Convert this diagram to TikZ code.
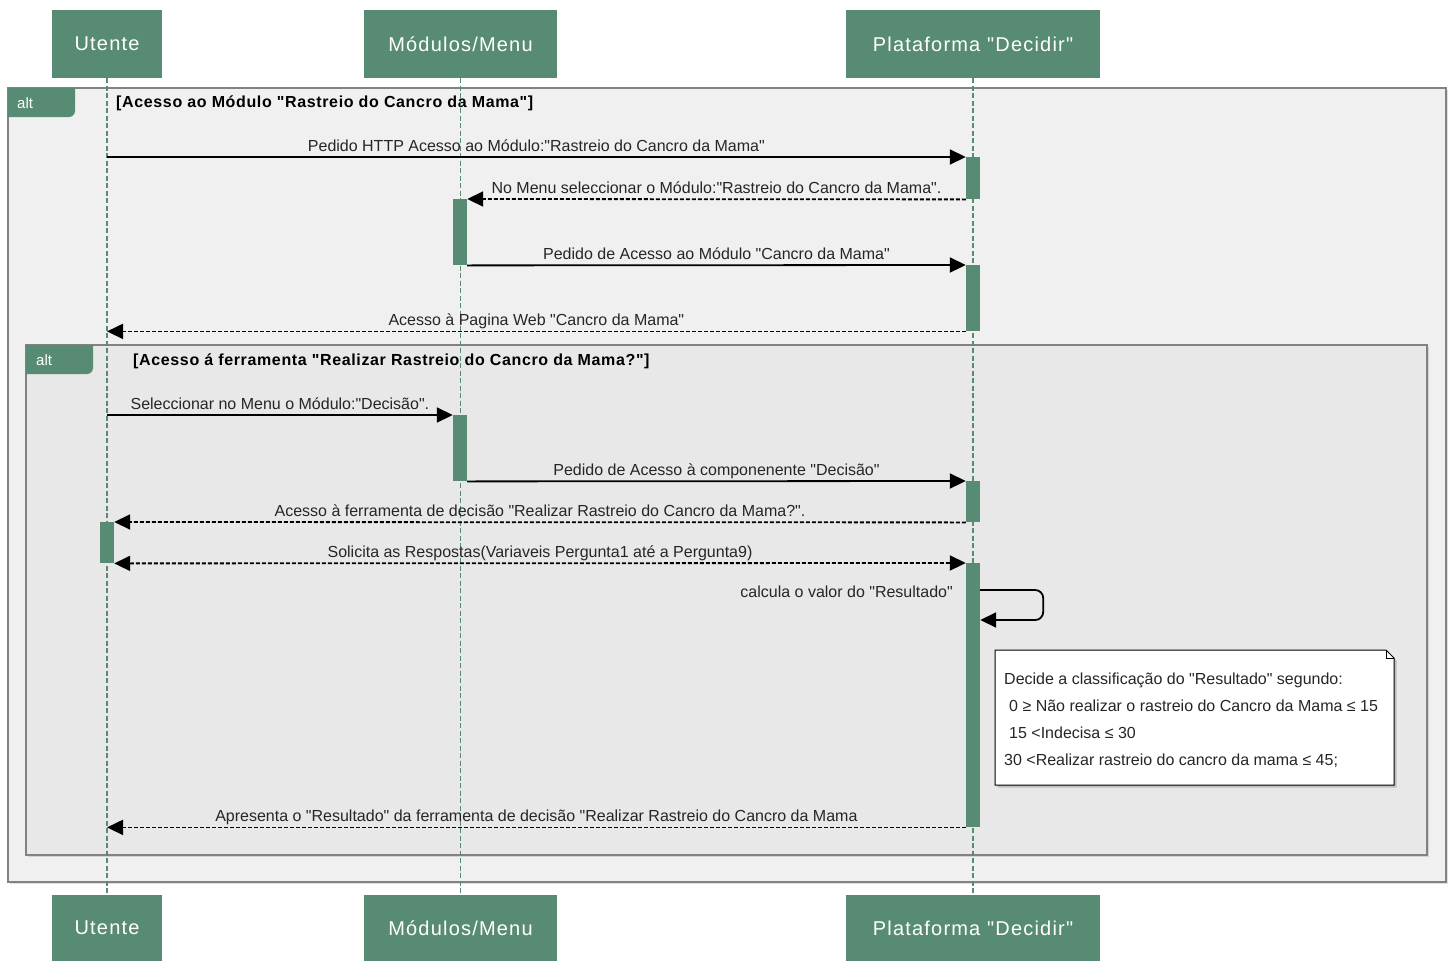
\documentclass[tikz,border=0pt]{standalone}
\usepackage{fontspec}
\setmainfont{Liberation Sans}[Ligatures=TeXOff]
\newfontfamily\actorfont[LetterSpace=6]{Liberation Sans}
\newfontfamily\guardfont[LetterSpace=4]{Liberation Sans}
\usetikzlibrary{arrows.meta, shadows}

\definecolor{umlgreen}{RGB}{88,139,116}
\definecolor{outergray}{RGB}{240,240,240}
\definecolor{innergray}{RGB}{232,232,232}
\definecolor{framegray}{RGB}{130,130,130}

\tikzset{
    actor/.style={fill=umlgreen, text=white, inner sep=0pt,
        font=\actorfont\fontsize{20}{24}\selectfont},
    lifeline/.style={umlgreen, line width=1.6pt, dash pattern=on 5pt off 2.5pt},
    activation/.style={fill=umlgreen, minimum width=14pt, inner sep=0pt},
    frame/.style={draw=framegray, line width=1.2pt,
        drop shadow={opacity=0.25, shadow xshift=2pt, shadow yshift=-2pt}},
    tab/.style={fill=umlgreen},
    tablabel/.style={text=white, anchor=west, inner sep=0pt,
        font=\fontsize{15}{18}\selectfont},
    guard/.style={anchor=west, inner sep=0pt,
        font=\guardfont\bfseries\fontsize{16}{19}\selectfont},
    msg/.style={-{Triangle[length=16pt, width=15pt]}, line width=1.8pt},
    reply/.style={msg, dash pattern=on 4pt off 2pt},
    msgtext/.style={inner sep=0pt, text=black!85, font=\fontsize{16}{19}\selectfont},
    notetext/.style={inner sep=0pt, align=left, text=black!85,
        font=\fontsize{16}{27}\selectfont}
}

\begin{document}
\begin{tikzpicture}[x=1pt, y=-1pt]
    \useasboundingbox (0,0) rectangle (1453,961);

    % alt frames
    \draw[frame, fill=outergray] (8,88) rectangle (1446,882);
    \fill[tab] (8,88) -- (75,88) [rounded corners=6pt] -- (75,117) [sharp corners] -- (8,117) -- cycle;
    \node[tablabel] (altOuter) at (17,103) {alt};
    \node[guard] (guardOuter) at (116,103) {[Acesso ao Módulo "Rastreio do Cancro da Mama"]};

    \draw[frame, fill=innergray] (26,345) rectangle (1427,855);
    \fill[tab] (26,345) -- (93,345) [rounded corners=6pt] -- (93,374) [sharp corners] -- (26,374) -- cycle;
    \node[tablabel] (altInner) at (36,360) {alt};
    \node[guard] (guardInner) at (133,361) {[Acesso á ferramenta "Realizar Rastreio do Cancro da Mama?"]};

    % participants
    \node[actor, minimum width=110pt, minimum height=68pt] (utenteTop) at (107,44) {Utente};
    \node[actor, minimum width=193pt, minimum height=68pt] (modulosTop) at (460.5,44) {Módulos/Menu};
    \node[actor, minimum width=254pt, minimum height=68pt] (plataformaTop) at (973,44) {Plataforma "Decidir"};
    \node[actor, minimum width=110pt, minimum height=66pt] (utenteBot) at (107,928) {Utente};
    \node[actor, minimum width=193pt, minimum height=66pt] (modulosBot) at (460.5,928) {Módulos/Menu};
    \node[actor, minimum width=254pt, minimum height=66pt] (plataformaBot) at (973,928) {Plataforma "Decidir"};

    \draw[lifeline] (utenteTop.south) -- (utenteBot.north);
    \draw[lifeline] (modulosTop.south) -- (modulosBot.north);
    \draw[lifeline] (plataformaTop.south) -- (plataformaBot.north);

    % activations
    \node[activation, minimum height=42pt, anchor=north] (platAct1) at (973,157) {};
    \node[activation, minimum height=66pt, anchor=north] (modAct1) at (460,199) {};
    \node[activation, minimum height=66pt, anchor=north] (platAct2) at (973,265) {};
    \node[activation, minimum height=66pt, anchor=north] (modAct2) at (460,415) {};
    \node[activation, minimum height=41pt, anchor=north] (platAct3) at (973,481) {};
    \node[activation, minimum height=41pt, anchor=north] (uteAct1) at (107,522) {};
    \node[activation, minimum height=264pt, anchor=north] (platAct4) at (973,563) {};

    % messages
    \draw[msg] (utenteTop |- platAct1.north) -- node[msgtext, midway, anchor=base, yshift=6pt] {Pedido HTTP Acesso ao Módulo:"Rastreio do Cancro da Mama"} (platAct1.north west);
    \draw[reply] (platAct1.south west) -- node[msgtext, midway, anchor=base, yshift=6pt] {No Menu seleccionar o Módulo:"Rastreio do Cancro da Mama".} (modAct1.north east);
    \draw[msg] (modAct1.south east) -- node[msgtext, midway, anchor=base, yshift=6pt] {Pedido de Acesso ao Módulo "Cancro da Mama"} (platAct2.north west);
    \draw[reply] (platAct2.south west) -- node[msgtext, midway, anchor=base, yshift=6pt] {Acesso à Pagina Web "Cancro da Mama"} (utenteTop |- platAct2.south);
    \draw[msg] (utenteTop |- modAct2.north) -- node[msgtext, midway, anchor=base, yshift=6pt] {Seleccionar no Menu o Módulo:"Decisão".} (modAct2.north west);
    \draw[msg] (modAct2.south east) -- node[msgtext, midway, anchor=base, yshift=6pt] {Pedido de Acesso à componenente "Decisão"} (platAct3.north west);
    \draw[reply] (platAct3.south west) -- node[msgtext, midway, anchor=base, yshift=6pt] {Acesso à ferramenta de decisão "Realizar Rastreio do Cancro da Mama?".} (uteAct1.north east);
    \draw[reply, {Triangle[length=16pt, width=15pt]}-{Triangle[length=16pt, width=15pt]}] (uteAct1.south east) -- node[msgtext, midway, anchor=base, yshift=6pt] {Solicita as Respostas(Variaveis Pergunta1 até a Pergunta9)} (platAct4.north west);

    % self call
    \draw[msg, rounded corners=8pt] (platAct4.north east) ++(0,27) coordinate (loopStart) -- ++(63,0) -- ++(0,30) -- ++(-63,0);
    \node[msgtext, anchor=base east] (calcLabel) at (953,597) {calcula o valor do "Resultado"};

    \draw[reply] (platAct4.south west) -- node[msgtext, midway, anchor=base, yshift=6pt] {Apresenta o "Resultado" da ferramenta de decisão "Realizar Rastreio do Cancro da Mama} (utenteTop |- platAct4.south);

    % note
    \draw[line width=1pt, fill=white, drop shadow={opacity=0.4, shadow xshift=2.5pt, shadow yshift=-2.5pt}]
        (995,650) -- (1386,650) -- (1394,658) -- (1394,785) -- (995,785) -- cycle;
    \draw[line width=0.8pt] (1386,650) -- (1386,658) -- (1394,658);
    \node[notetext, anchor=north west] (noteText) at (1004,673) {Decide a classificação do "Resultado" segundo:\\
        \hspace*{5pt}0 ≥ Não realizar o rastreio do Cancro da Mama ≤ 15\\
        \hspace*{5pt}15 <Indecisa ≤ 30\\
        30 <Realizar rastreio do cancro da mama ≤ 45;};
\end{tikzpicture}
\end{document}
